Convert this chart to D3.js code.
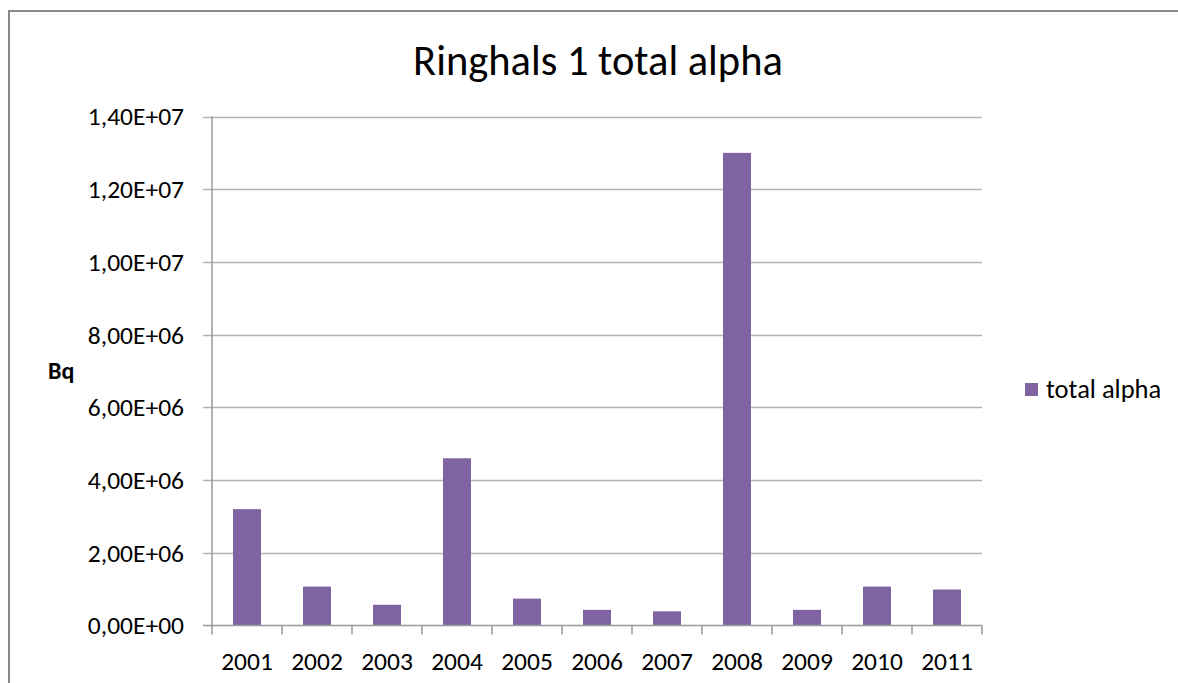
<!DOCTYPE html>
<html>
<head>
<meta charset="utf-8">
<script src="https://cdn.jsdelivr.net/npm/d3@7"></script>
<style>
  body { margin: 0; background: white; }
  text { font-family: Carlito, Calibri, "Open Sans", sans-serif; fill: #000; }
</style>
</head>
<body>
<script>
// data
var years = ["2001", "2002", "2003", "2004", "2005", "2006", "2007", "2008", "2009", "2010", "2011"]
var alpha = [3.2e6, 1.07e6, 0.57e6, 4.6e6, 0.74e6, 0.43e6, 0.39e6, 1.3e7, 0.43e6, 1.07e6, 0.99e6]
var yTicks = [0, 2e6, 4e6, 6e6, 8e6, 1e7, 1.2e7, 1.4e7]

var w = 1178
var h = 683
var plotLeft = 212, plotRight = 982, plotTop = 116.5, plotBottom = 625.5

var svg = d3.select("body")
            .append("svg")
            .attr("width", w)
            .attr("height", h)

// frame of the chart object
svg.append("path")
    .attr("d", "M9,683 V11 H1178")
    .attr("fill", "none")
    .attr("stroke", "#888")
    .attr("stroke-width", 2)

var x = d3.scaleBand()
            .domain(years)
            .range([plotLeft, plotRight])
            .paddingInner(0.6)
            .paddingOuter(0.3)

var xBand = d3.scaleBand().domain(years).range([plotLeft, plotRight])

var y = d3.scaleLinear()
            .domain([0, 1.4e7])
            .range([plotBottom, plotTop])

// excel style labels: 1,40E+07
function sci(v) {
    var s = v.toExponential(2).replace(".", ",")
    var parts = s.split("e")
    var ex = Math.abs(+parts[1])
    return parts[0] + "E" + (+parts[1] < 0 ? "-" : "+") + (ex < 10 ? "0" : "") + ex
}

// gridlines
svg.append("g")
    .selectAll("line")
    .data(yTicks.filter(d => d > 0))
    .enter()
    .append("line")
    .attr("x1", plotLeft - 9)
    .attr("x2", plotRight)
    .attr("y1", d => Math.round(y(d)) + 0.5)
    .attr("y2", d => Math.round(y(d)) + 0.5)
    .attr("stroke", "#b3b3b3")
    .attr("stroke-width", 1.5)

svg.append("g")
    .selectAll("text")
    .data(yTicks)
    .enter()
    .append("text")
    .attr("x", 184)
    .attr("y", d => y(d))
    .attr("dy", "0.35em")
    .attr("text-anchor", "end")
    .style("font-size", "25.5px")
    .text(sci)

// bars
svg.append("g")
    .selectAll("rect")
    .data(alpha)
    .enter()
    .append("rect")
    .attr("x", (d, i) => x(years[i]))
    .attr("width", x.bandwidth())
    .attr("y", d => y(d))
    .attr("height", d => plotBottom - y(d))
    .attr("fill", "#8064a2")

// axes
svg.append("line")
    .attr("x1", plotLeft).attr("x2", plotLeft)
    .attr("y1", plotTop).attr("y2", plotBottom)
    .attr("stroke", "#999").attr("stroke-width", 1.5)

svg.append("line")
    .attr("x1", plotLeft - 9).attr("x2", plotRight)
    .attr("y1", plotBottom).attr("y2", plotBottom)
    .attr("stroke", "#999").attr("stroke-width", 1.5)

svg.append("g")
    .selectAll("line")
    .data(years.concat(["end"]))
    .enter()
    .append("line")
    .attr("x1", (d, i) => plotLeft + i * xBand.step())
    .attr("x2", (d, i) => plotLeft + i * xBand.step())
    .attr("y1", plotBottom)
    .attr("y2", plotBottom + 9)
    .attr("stroke", "#999").attr("stroke-width", 1.5)

svg.append("g")
    .selectAll("text")
    .data(years)
    .enter()
    .append("text")
    .attr("x", d => xBand(d) + xBand.bandwidth() / 2)
    .attr("y", 670)
    .attr("text-anchor", "middle")
    .style("font-size", "25.5px")
    .text(d => d)

// title, axis title, legend
svg.append("text")
    .attr("x", 598)
    .attr("y", 75)
    .attr("text-anchor", "middle")
    .style("font-size", "42.5px")
    .text("Ringhals 1 total alpha")

svg.append("text")
    .attr("x", 48)
    .attr("y", 379)
    .style("font-size", "24px")
    .style("font-weight", "bold")
    .text("Bq")

svg.append("rect")
    .attr("x", 1025).attr("y", 383)
    .attr("width", 13).attr("height", 13)
    .attr("fill", "#8064a2")

svg.append("text")
    .attr("x", 1046)
    .attr("y", 398)
    .style("font-size", "26.5px")
    .text("total alpha")
</script>
</body>
</html>
